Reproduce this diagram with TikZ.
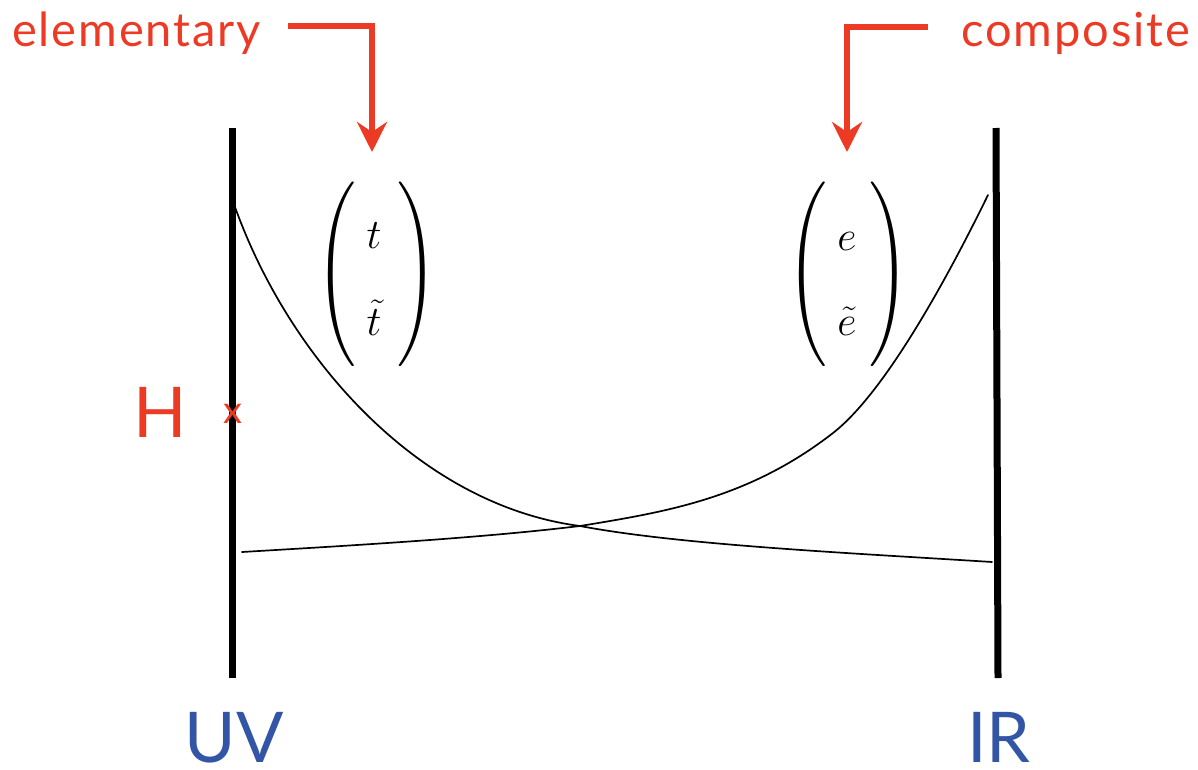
\documentclass[tikz,border=0pt]{standalone}
\usepackage{fix-cm}
\usepackage{amsmath}
\usepackage{graphicx}
\usepackage{fontspec}
\newfontfamily\labelfont{Lato}
\newfontfamily\calloutfont[LetterSpace=4]{Lato}
\usetikzlibrary{arrows.meta}
\definecolor{lblred}{RGB}{237,58,37}
\definecolor{lblblue}{RGB}{50,85,165}
\tikzset{
  wall/.style={line width=7pt},
  flow/.style={line width=1.7pt, line cap=round, line join=round},
  callout/.style={draw=lblred, line width=5.5pt, -{Stealth[length=30pt,width=30pt,inset=10pt]}},
  redlabel/.style={text=lblred, inner sep=0pt, font=\calloutfont\fontsize{47}{56}\selectfont},
  endlabel/.style={text=lblblue, inner sep=0pt, font=\labelfont\fontsize{70}{84}\selectfont},
  higgs/.style={text=lblred, inner sep=0pt, font=\labelfont\fontsize{70}{84}\selectfont},
  cross/.style={text=lblred, inner sep=0pt, font=\labelfont\fontsize{38}{46}\selectfont},
  field/.style={inner sep=0pt, anchor=base, font=\fontsize{42}{50}\selectfont},
  paren/.style={inner sep=0pt},
}
\newcommand{\bigleft}{\scalebox{5}[6.15]{$\Bigg($}}
\newcommand{\bigright}{\scalebox{5}[6.15]{$\Bigg)$}}
\begin{document}
\begin{tikzpicture}[x=1pt,y=-1pt]
\useasboundingbox (0,0) rectangle (1198,770);
% walls
\coordinate (uvtop) at (232,128);
\coordinate (uvbot) at (232,678);
\coordinate (irtop) at (996,128);
\coordinate (irbot) at (998,678);
\draw[wall] (uvtop) -- (uvbot);
\draw[wall] (irtop) -- (irbot);
% labels
\node[endlabel, anchor=base] (uv) at (234,762) {UV};
\node[endlabel, anchor=base] (ir) at (999,762) {IR};
\node[higgs, anchor=base] (h) at (160,437) {H};
\node[cross, anchor=base] (x) at (233,423) {x};
\node[redlabel, anchor=base west] (elem) at (12,47) {elementary};
\node[redlabel, anchor=base east] (comp) at (1190,47) {composite};
% fields
\node[field] (t) at (374,248) {$t$};
\node[field] (tt) at (374,335) {$\tilde t$};
\node[field] (e) at (847,250) {$e$};
\node[field] (te) at (847,335) {$\tilde e$};
\node[paren] (lp1) at (336,274) {\bigleft};
\node[paren] (rp1) at (417,274) {\bigright};
\node[paren] (lp2) at (807,274) {\bigleft};
\node[paren] (rp2) at (889,274) {\bigright};
% callout arrows
\coordinate (ea) at (288,26);
\coordinate (et) at (372,152);
\coordinate (ca) at (928,27);
\coordinate (ct) at (847,152);
\draw[callout] (ea) -| (et);
\draw[callout] (ca) -| (ct);
% running curves
\coordinate (c1a) at (235,207);
\coordinate (c1b) at (992,562);
\coordinate (c2a) at (242,552);
\coordinate (c2b) at (988,195);
\coordinate (cross) at (580,526);
\draw[flow] (c1a) .. controls (290,360) and (420,505) .. (cross)
                  .. controls (680,545) and (850,553) .. (c1b);
\draw[flow] (c2a) .. controls (360,545) and (480,538) .. (cross)
                  .. controls (665,512) and (748,499) .. (833,433)
                  .. controls (883,394) and (943,287) .. (c2b);
\end{tikzpicture}
\end{document}
